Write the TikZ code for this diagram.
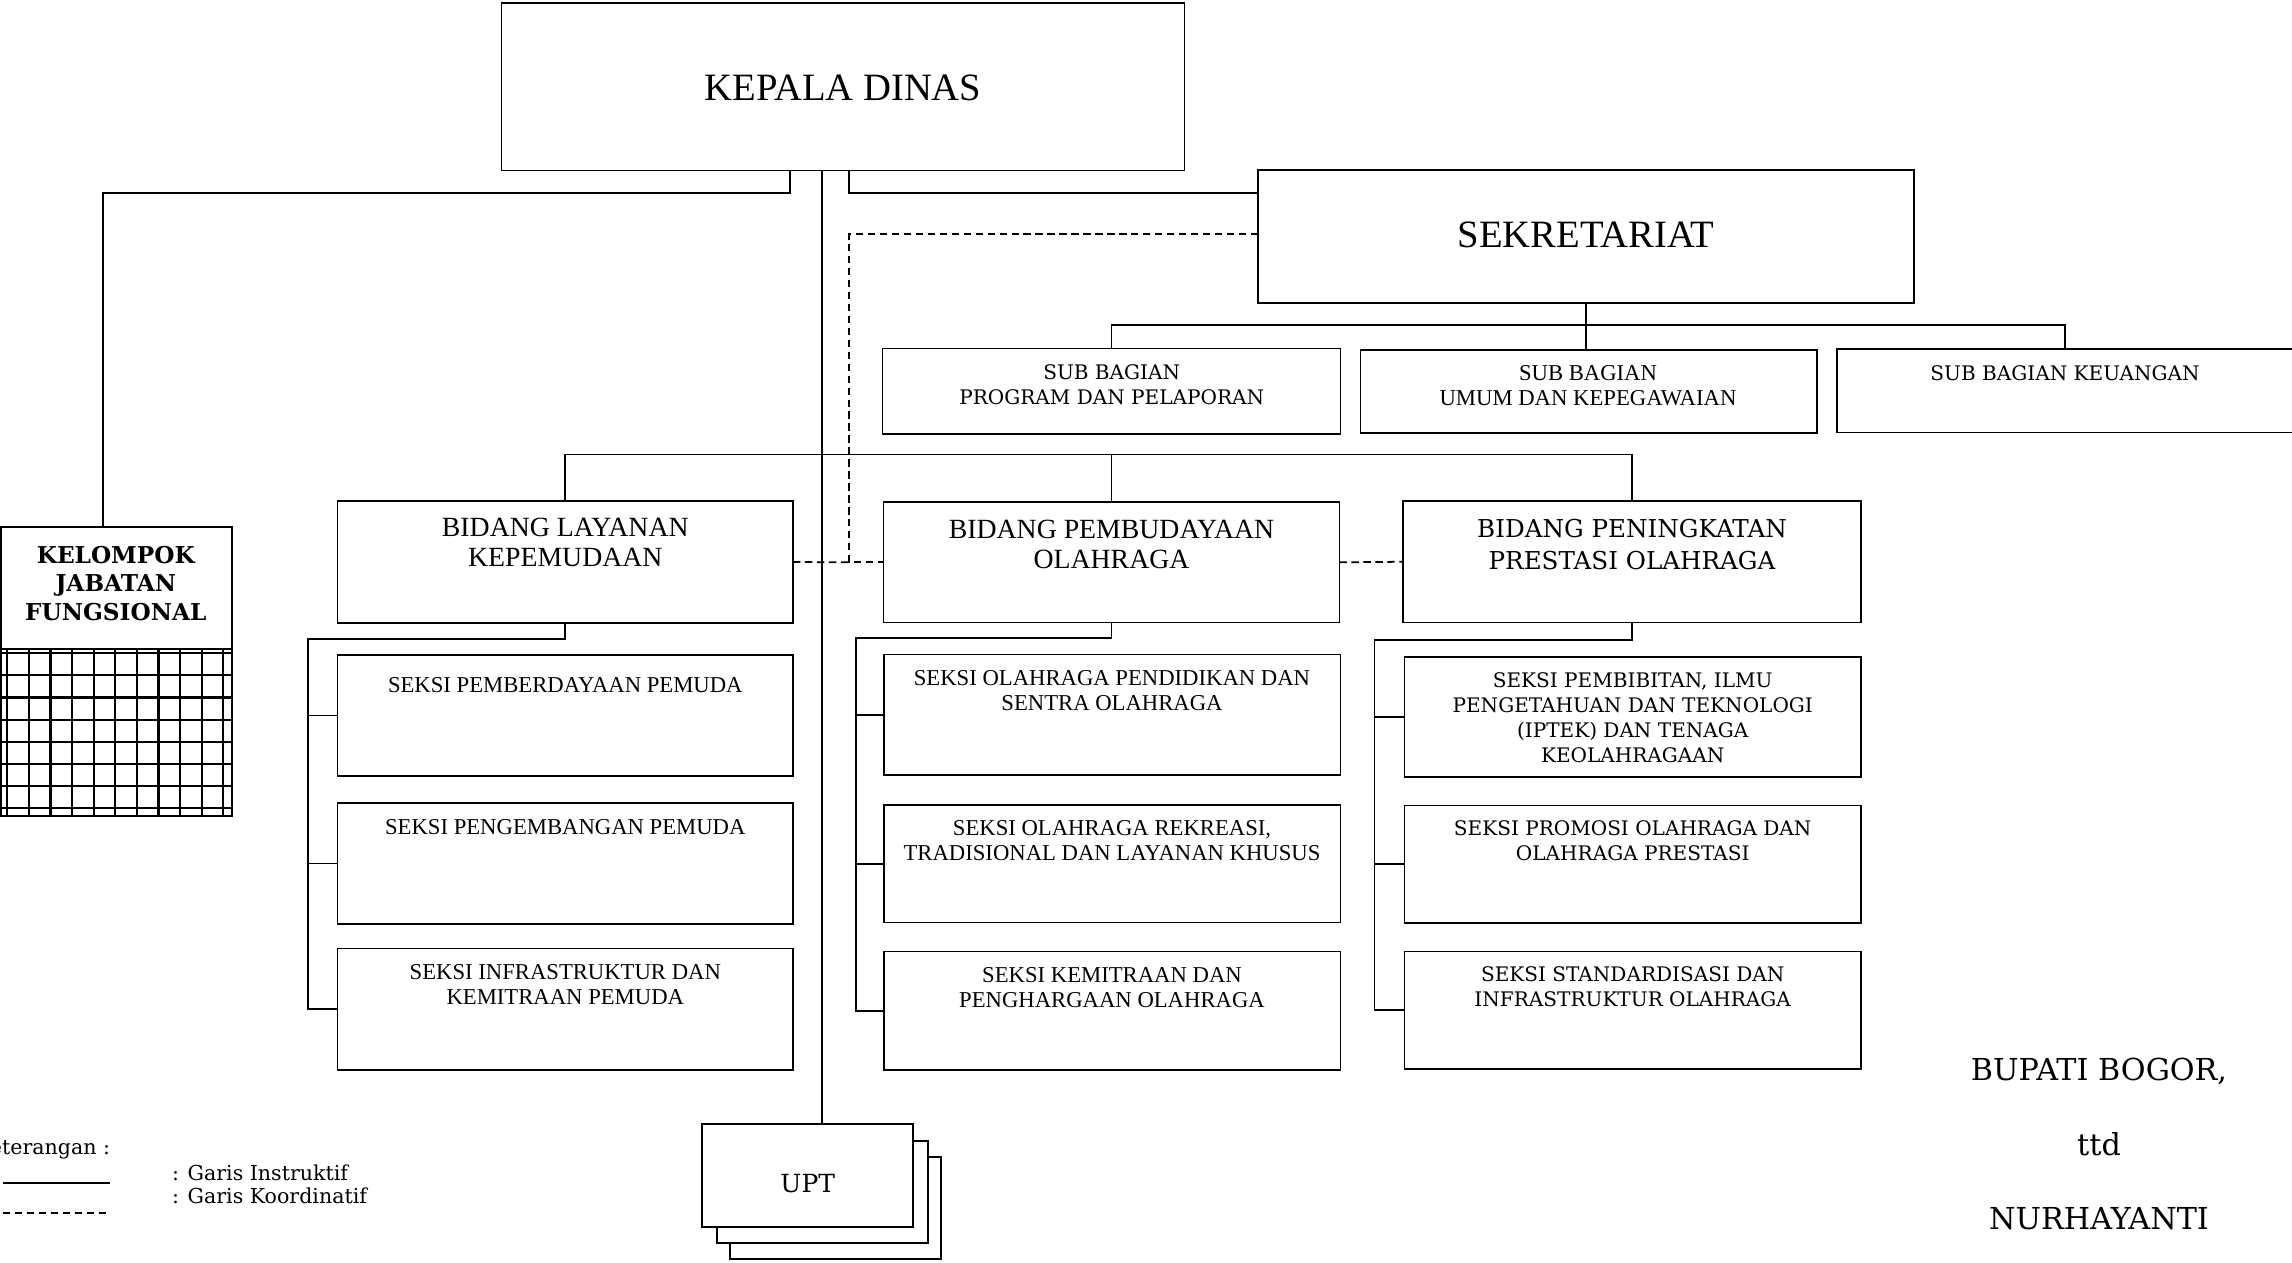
\documentclass[tikz,border=0pt]{standalone}
\usepackage{fontspec}
\setmainfont{Liberation Serif}
\newfontfamily\dvs{DejaVu Serif}
\newcommand\zfKD{\fontsize{11}{13}\selectfont}
\newcommand\zfS{\fontsize{6.45}{7.1}\selectfont}
\newcommand\zfB{\fontsize{7.9}{8.5}\selectfont}
\newcommand\zfDS{\dvs\fontsize{5.7}{7.1}\selectfont}
\newcommand\zfDB{\dvs\fontsize{7.0}{9}\selectfont}
\newcommand\zfKJ{\dvs\bfseries\fontsize{6.6}{8.05}\selectfont}
\newcommand\zfUP{\dvs\fontsize{7.1}{9}\selectfont}
\newcommand\zfLG{\dvs\fontsize{5.85}{7}\selectfont}
\newcommand\zfSG{\dvs\fontsize{8.6}{10}\selectfont}
\newcommand\obox[5]{\node[bx,minimum width={(#4-#2)*0.01cm},minimum height={(#5-#3)*0.01cm}] (#1) at ({(#2+#4)/2},{(#3+#5)/2}) {};}
\begin{document}
\begin{tikzpicture}[x=0.01cm,y=-0.01cm,
  bx/.style={draw,line width=0.5pt,inner sep=0pt,outer sep=0pt,fill=white},
  ln/.style={line width=0.5pt},
  dsh/.style={line width=0.5pt,dash pattern=on 2.1pt off 1.3pt},
  grd/.style={line width=0.6pt},
  lbl/.style={inner sep=0pt,outer sep=0pt,align=center}]
\useasboundingbox (0,0) rectangle (2292,1262);
% boxes
\obox{kd}{501.5}{3}{1184.5}{170.5}
\obox{sek}{1258}{170}{1914}{303}
\obox{sbpp}{882.5}{348.5}{1340.5}{434}
\obox{sbuk}{1360.5}{350}{1817}{433}
\obox{sbk}{1837}{349}{2293}{432.5}
\obox{blk}{337.5}{501}{793}{623}
\obox{bp}{883.5}{502}{1339.5}{622.5}
\obox{bppo}{1403}{501}{1861}{622.5}
\obox{blka}{337.5}{655}{793}{776}
\obox{blkb}{337.5}{803}{793}{924}
\obox{blkc}{337.5}{948.5}{793}{1070}
\obox{bpa}{884}{654.5}{1340.5}{775}
\obox{bpb}{884}{805}{1340.5}{922.5}
\obox{bpc}{884}{951.5}{1340.5}{1070}
\obox{bppoa}{1404.5}{657}{1861}{777}
\obox{bppob}{1404.5}{805.5}{1861}{923}
\obox{bppoc}{1404.5}{951.5}{1861}{1069}
\obox{kjf}{1}{526.7}{231.7}{816}
\obox{uptc}{730}{1157}{941}{1259}
\obox{uptb}{716.7}{1141}{928}{1243}
\obox{upt}{701.7}{1124}{912.7}{1226.7}
% grid of kelompok jabatan fungsional
\draw[ln] (1,649) -- (231.7,649);
\foreach \gx in {7.3,28.9,50.5,72.1,93.7,115.3,136.9,158.5,180.1,201.7,223.3}
  \draw[grd] (\gx,649.5) -- (\gx,815.5);
\foreach \gy in {653.3,675.4,697.5,719.6,741.7,763.8,785.9,808}
  \draw[grd] (1,\gy) -- (231.7,\gy);
% connectors from kepala dinas
\draw[ln] ([xshift=-0.53cm]kd.south) -- ++(0,22.5) -| ([xshift=-0.13cm]kjf.north);
\draw[ln] ([xshift=0.06cm]kd.south) |- ([yshift=0.438cm]sek.west);
\draw[ln] ([xshift=-0.213cm]kd.south) -- ([xshift=-0.213cm]kd.south |- upt.north);
% coordination lines
\draw[dsh] ([yshift=0.022cm]sek.west) -| ([xshift=-0.342cm]bp.west) -- (bp.west);
\draw[dsh] (blk.east) -- ([xshift=-0.342cm]bp.west);
\draw[dsh] (bp.east) -- (bppo.west);
% sekretariat
\draw[ln] (sek.south) -- (sek.south |- sbuk.north);
\draw[ln] (sbpp.north) -- ++(0,-23.5) -| (sbk.north);
% bidang
\draw[ln] (blk.north) -- ++(0,-46.5) -| (bppo.north);
\draw[ln] (bp.north) -- ++(0,-47.5);
% seksi brackets
\draw[ln] (blk.south) -- ++(0,16.3) -| ([xshift=-0.292cm]blkc.west) -- (blkc.west);
\draw[ln] ([xshift=-0.292cm]blka.west) -- (blka.west);
\draw[ln] ([xshift=-0.292cm]blkb.west) -- (blkb.west);
\draw[ln] (bp.south) -- ++(0,15.8) -| ([xshift=-0.277cm]bpc.west) -- (bpc.west);
\draw[ln] ([xshift=-0.277cm]bpa.west) -- (bpa.west);
\draw[ln] ([xshift=-0.277cm]bpb.west) -- (bpb.west);
\draw[ln] (bppo.south) -- ++(0,17.5) -| ([xshift=-0.30cm]bppoc.west) -- (bppoc.west);
\draw[ln] ([xshift=-0.30cm]bppoa.west) -- (bppoa.west);
\draw[ln] ([xshift=-0.30cm]bppob.west) -- (bppob.west);
% texts
\node[lbl,font=\zfKD] (tkd) at (843,88) {KEPALA DINAS};
\node[lbl,font=\zfKD] (tsek) at (1586,235) {SEKRETARIAT};
\node[lbl,font=\zfDS] (tsbpp) at (1111.7,384.2) {SUB BAGIAN\\PROGRAM DAN PELAPORAN};
\node[lbl,font=\zfS] (tsbuk) at (1588,385.8) {SUB BAGIAN\\UMUM DAN KEPEGAWAIAN};
\node[lbl,font=\zfDS] (tsbk) at (2065,372.7) {SUB BAGIAN KEUANGAN};
\node[lbl,font=\zfB] (tblk) at (565.3,542.8) {BIDANG LAYANAN\\KEPEMUDAAN};
\node[lbl,font=\zfB] (tbp) at (1111.5,544.2) {BIDANG PEMBUDAYAAN\\OLAHRAGA};
\node[lbl,font=\zfDB] (tbppo) at (1632,544.8) {BIDANG PENINGKATAN\\PRESTASI OLAHRAGA};
\node[lbl,font=\zfS] (tblka) at (565.3,685) {SEKSI PEMBERDAYAAN PEMUDA};
\node[lbl,font=\zfS] (tblkb) at (565.3,826.7) {SEKSI PENGEMBANGAN PEMUDA};
\node[lbl,font=\zfS] (tblkc) at (565.3,984.2) {SEKSI INFRASTRUKTUR DAN\\KEMITRAAN PEMUDA};
\node[lbl,font=\zfS] (tbpa) at (1112,690.5) {SEKSI OLAHRAGA PENDIDIKAN DAN\\SENTRA OLAHRAGA};
\node[lbl,font=\zfS] (tbpb) at (1112,840.8) {SEKSI OLAHRAGA REKREASI,\\TRADISIONAL DAN LAYANAN KHUSUS};
\node[lbl,font=\zfS] (tbpc) at (1112,987.5) {SEKSI KEMITRAAN DAN\\PENGHARGAAN OLAHRAGA};
\node[lbl,font=\zfDS] (tbppoa) at (1632.7,717.5) {SEKSI PEMBIBITAN, ILMU\\PENGETAHUAN DAN TEKNOLOGI\\(IPTEK) DAN TENAGA\\KEOLAHRAGAAN};
\node[lbl,font=\zfDS] (tbppob) at (1632.7,840.2) {SEKSI PROMOSI OLAHRAGA DAN\\OLAHRAGA PRESTASI};
\node[lbl,font=\zfDS] (tbppoc) at (1632.7,986.7) {SEKSI STANDARDISASI DAN\\INFRASTRUKTUR OLAHRAGA};
\node[lbl,font=\zfKJ] (tkjf) at (115.8,583.4) {KELOMPOK\\JABATAN\\FUNGSIONAL};
\node[lbl,font=\zfUP] (tupt) at (807.7,1184) {UPT};
% legend
\node[lbl,font=\zfLG,anchor=base east] (lgk) at (110,1154.3) {Keterangan :};
\draw[ln] (3,1182.7) -- (110,1182.7);
\draw[dsh] (3,1213) -- (110,1213);
\node[lbl,font=\zfLG,anchor=base west] (lgi) at (172,1180) {: Garis Instruktif};
\node[lbl,font=\zfLG,anchor=base west] (lgo) at (172,1203.3) {: Garis Koordinatif};
% signature
\node[lbl,font=\zfSG,anchor=base] (sga) at (2099,1080) {BUPATI BOGOR,};
\node[lbl,font=\zfSG,anchor=base] (sgb) at (2099,1155) {ttd};
\node[lbl,font=\zfSG,anchor=base] (sgc) at (2099,1229.3) {NURHAYANTI};
\end{tikzpicture}
\end{document}
